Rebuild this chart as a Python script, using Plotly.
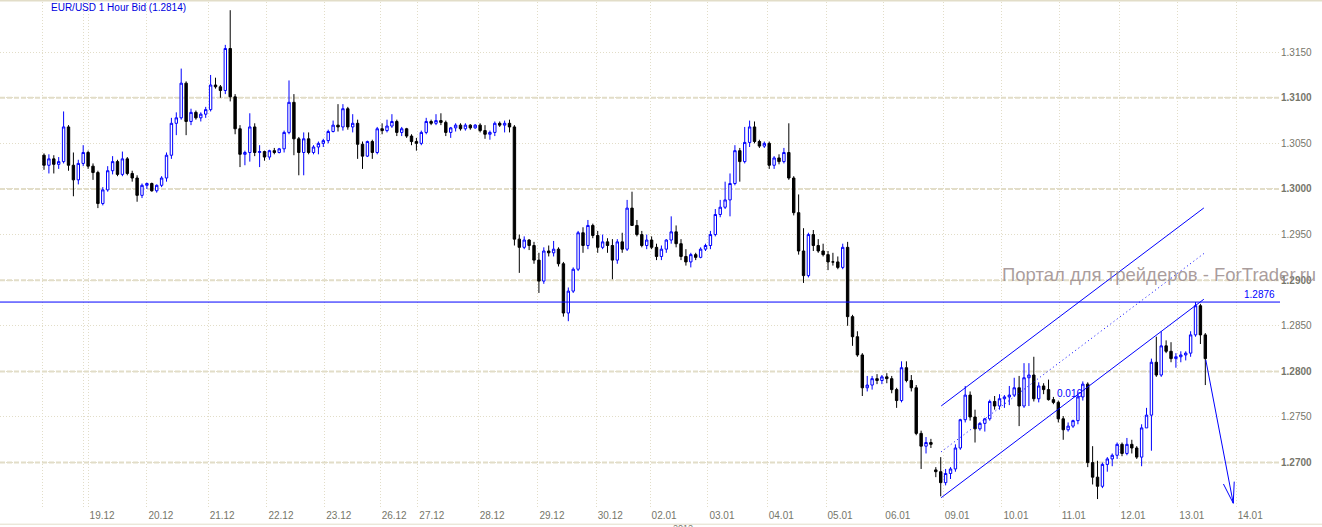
import plotly.graph_objects as go

# ---- data: EUR/USD 2-hour candles ----
opens = [1.3037,1.3026,1.3033,1.3027,1.3030,1.3068,1.3026,1.3010,1.3028,1.3040,
 1.3025,1.3018,1.2984,1.2999,1.3020,1.3030,1.3016,1.3033,1.3017,1.3012,
 1.2993,1.3004,1.3006,1.2998,1.3004,1.3012,1.3037,1.3072,1.3078,1.3116,
 1.3074,1.3084,1.3078,1.3082,1.3087,1.3114,1.3112,1.3108,1.3154,1.3101,
 1.3066,1.3038,1.3040,1.3068,1.3040,1.3041,1.3035,1.3042,1.3040,1.3044,
 1.3062,1.3095,1.3055,1.3040,1.3055,1.3040,1.3046,1.3050,1.3053,1.3063,
 1.3070,1.3068,1.3088,1.3068,1.3072,1.3049,1.3036,1.3052,1.3040,1.3066,
 1.3064,1.3069,1.3074,1.3062,1.3066,1.3058,1.3052,1.3050,1.3062,1.3074,
 1.3072,1.3075,1.3073,1.3062,1.3067,1.3070,1.3066,1.3070,1.3067,1.3070,
 1.3064,1.3060,1.3062,1.3072,1.3070,1.3072,1.3068,1.2945,1.2936,1.2944,
 1.2938,1.2922,1.2899,1.2932,1.2930,1.2934,1.2918,1.2864,1.2888,1.2912,
 1.2952,1.2938,1.2960,1.2949,1.2936,1.2942,1.2938,1.2922,1.2942,1.2934,
 1.2979,1.2960,1.2950,1.2938,1.2944,1.2936,1.2926,1.2934,1.2944,1.2953,
 1.2940,1.2926,1.2920,1.2928,1.2925,1.2934,1.2938,1.2950,1.2972,1.2980,
 1.2988,1.3006,1.3042,1.3030,1.3051,1.3068,1.3052,1.3047,1.3050,1.3026,
 1.3034,1.3030,1.3040,1.3012,1.2974,1.2932,1.2905,1.2950,1.2938,1.2932,
 1.2928,1.2920,1.2920,1.2914,1.2936,1.2860,1.2838,1.2818,1.2782,1.2785,
 1.2792,1.2790,1.2794,1.2792,1.2780,1.2768,1.2804,1.2790,1.2782,1.2732,
 1.2718,1.2722,1.2692,1.2690,1.2678,1.2688,1.2693,1.2716,1.2747,1.2774,
 1.2750,1.2737,1.2743,1.2748,1.2767,1.2762,1.2770,1.2772,1.2774,1.2782,
 1.2762,1.2793,1.2796,1.2770,1.2784,1.2780,1.2769,1.2766,1.2748,1.2736,
 1.2740,1.2746,1.2772,1.2786,1.2700,1.2684,1.2674,1.2698,1.2704,1.2708,
 1.2720,1.2710,1.2720,1.2716,1.2706,1.2738,1.2752,1.2810,1.2796,1.2828,
 1.2822,1.2814,1.2816,1.2818,1.2820,1.2840,1.2872,1.2840]

highs = [1.3039,1.3038,1.3037,1.3035,1.3085,1.3070,1.3040,1.3032,1.3048,1.3042,
 1.3028,1.3020,1.3002,1.3025,1.3036,1.3032,1.3041,1.3035,1.3020,1.3015,
 1.3006,1.3007,1.3007,1.3005,1.3014,1.3040,1.3078,1.3084,1.3132,1.3118,
 1.3088,1.3086,1.3084,1.3090,1.3125,1.3122,1.3114,1.3158,1.3196,1.3104,
 1.3070,1.3042,1.3083,1.3072,1.3048,1.3042,1.3043,1.3045,1.3045,1.3064,
 1.3119,1.3104,1.3057,1.3062,1.3062,1.3048,1.3052,1.3055,1.3065,1.3075,
 1.3093,1.3093,1.3090,1.3082,1.3076,1.3052,1.3053,1.3054,1.3068,1.3072,
 1.3076,1.3082,1.3076,1.3068,1.3067,1.3060,1.3056,1.3064,1.3078,1.3076,
 1.3082,1.3083,1.3075,1.3068,1.3072,1.3072,1.3072,1.3071,1.3071,1.3072,
 1.3070,1.3064,1.3074,1.3074,1.3075,1.3076,1.3070,1.2950,1.2948,1.2945,
 1.2942,1.2930,1.2936,1.2938,1.2943,1.2936,1.2920,1.2892,1.2914,1.2954,
 1.2958,1.2966,1.2962,1.2954,1.2950,1.2946,1.2945,1.2945,1.2952,1.2988,
 1.2997,1.2966,1.2954,1.2950,1.2948,1.2940,1.2938,1.2945,1.2970,1.2960,
 1.2945,1.2934,1.2930,1.2930,1.2936,1.2940,1.2954,1.2978,1.2988,1.3008,
 1.3017,1.3048,1.3045,1.3068,1.3075,1.3074,1.3054,1.3052,1.3052,1.3036,
 1.3038,1.3045,1.3072,1.3014,1.2994,1.2957,1.2952,1.2955,1.2945,1.2940,
 1.2932,1.2930,1.2926,1.2940,1.2942,1.2862,1.2844,1.2820,1.2795,1.2795,
 1.2797,1.2796,1.2798,1.2795,1.2782,1.2811,1.2811,1.2796,1.2785,1.2735,
 1.2728,1.2726,1.2695,1.2706,1.2693,1.2695,1.2720,1.2748,1.2784,1.2778,
 1.2758,1.2744,1.2749,1.2769,1.2773,1.2775,1.2774,1.2784,1.2793,1.2795,
 1.2809,1.2809,1.2816,1.2788,1.2787,1.2791,1.2772,1.2768,1.2751,1.2744,
 1.2747,1.2775,1.2789,1.2788,1.2718,1.2702,1.2700,1.2706,1.2710,1.2722,
 1.2722,1.2727,1.2725,1.2718,1.2742,1.2760,1.2814,1.2838,1.2844,1.2834,
 1.2832,1.2820,1.2822,1.2822,1.2844,1.2876,1.2874,1.2842]

lows = [1.3021,1.3017,1.3017,1.3022,1.3028,1.3020,1.2992,1.3005,1.3025,1.3022,
 1.3010,1.2979,1.2982,1.2997,1.3016,1.3014,1.3014,1.3015,1.3008,1.2986,
 1.2990,1.3000,1.2997,1.2996,1.3002,1.3008,1.3033,1.3059,1.3076,1.3059,
 1.3070,1.3076,1.3074,1.3078,1.3085,1.3110,1.3100,1.3104,1.3096,1.3060,
 1.3024,1.3026,1.3030,1.3036,1.3024,1.3031,1.3032,1.3038,1.3039,1.3040,
 1.3060,1.3037,1.3015,1.3015,1.3038,1.3038,1.3038,1.3046,1.3050,1.3062,
 1.3063,1.3064,1.3065,1.3062,1.3033,1.3022,1.3035,1.3033,1.3038,1.3060,
 1.3062,1.3067,1.3058,1.3058,1.3056,1.3048,1.3042,1.3048,1.3060,1.3070,
 1.3070,1.3070,1.3058,1.3056,1.3063,1.3064,1.3064,1.3065,1.3066,1.3062,
 1.3055,1.3054,1.3058,1.3068,1.3062,1.3062,1.2938,1.2908,1.2934,1.2933,
 1.2918,1.2886,1.2896,1.2926,1.2926,1.2915,1.2860,1.2855,1.2886,1.2910,
 1.2930,1.2934,1.2946,1.2930,1.2934,1.2930,1.2901,1.2918,1.2930,1.2932,
 1.2974,1.2948,1.2936,1.2934,1.2934,1.2922,1.2922,1.2930,1.2940,1.2936,
 1.2922,1.2916,1.2914,1.2922,1.2924,1.2932,1.2934,1.2948,1.2969,1.2978,
 1.2970,1.3004,1.3008,1.3028,1.3046,1.3050,1.3045,1.3045,1.3022,1.3022,
 1.3027,1.3028,1.3010,1.2971,1.2928,1.2897,1.2903,1.2932,1.2930,1.2926,
 1.2911,1.2916,1.2912,1.2912,1.2850,1.2828,1.2816,1.2773,1.2778,1.2780,
 1.2786,1.2786,1.2787,1.2776,1.2760,1.2766,1.2788,1.2778,1.2730,1.2693,
 1.2710,1.2716,1.2684,1.2663,1.2675,1.2682,1.2690,1.2714,1.2744,1.2746,
 1.2722,1.2735,1.2734,1.2746,1.2758,1.2758,1.2760,1.2763,1.2772,1.2740,
 1.2760,1.2762,1.2767,1.2766,1.2775,1.2768,1.2764,1.2744,1.2725,1.2734,
 1.2738,1.2742,1.2768,1.2695,1.2676,1.2660,1.2672,1.2690,1.2696,1.2704,
 1.2707,1.2708,1.2710,1.2704,1.2696,1.2738,1.2713,1.2794,1.2794,1.2820,
 1.2810,1.2804,1.2810,1.2812,1.2816,1.2838,1.2830,1.2785]

closes = [1.3026,1.3033,1.3027,1.3030,1.3068,1.3026,1.3010,1.3028,1.3040,1.3025,
 1.3018,1.2984,1.2999,1.3020,1.3030,1.3016,1.3033,1.3017,1.3012,1.2993,
 1.3004,1.3006,1.2998,1.3004,1.3012,1.3037,1.3072,1.3078,1.3116,1.3074,
 1.3084,1.3078,1.3082,1.3087,1.3114,1.3112,1.3108,1.3154,1.3101,1.3066,
 1.3038,1.3040,1.3068,1.3040,1.3041,1.3035,1.3042,1.3040,1.3044,1.3062,
 1.3095,1.3055,1.3040,1.3055,1.3040,1.3046,1.3050,1.3053,1.3063,1.3070,
 1.3068,1.3088,1.3068,1.3072,1.3049,1.3036,1.3052,1.3040,1.3066,1.3064,
 1.3069,1.3074,1.3062,1.3066,1.3058,1.3052,1.3050,1.3062,1.3074,1.3072,
 1.3075,1.3073,1.3062,1.3067,1.3070,1.3066,1.3070,1.3067,1.3070,1.3064,
 1.3060,1.3062,1.3072,1.3070,1.3072,1.3068,1.2945,1.2936,1.2944,1.2938,
 1.2922,1.2899,1.2932,1.2930,1.2934,1.2918,1.2864,1.2888,1.2912,1.2952,
 1.2938,1.2960,1.2949,1.2936,1.2942,1.2938,1.2922,1.2942,1.2934,1.2979,
 1.2960,1.2950,1.2938,1.2944,1.2936,1.2926,1.2934,1.2944,1.2953,1.2940,
 1.2926,1.2920,1.2928,1.2925,1.2934,1.2938,1.2950,1.2972,1.2980,1.2988,
 1.3006,1.3042,1.3030,1.3051,1.3068,1.3052,1.3047,1.3050,1.3026,1.3034,
 1.3030,1.3040,1.3012,1.2974,1.2932,1.2905,1.2950,1.2938,1.2932,1.2928,
 1.2920,1.2920,1.2914,1.2936,1.2860,1.2838,1.2818,1.2782,1.2785,1.2792,
 1.2790,1.2794,1.2792,1.2780,1.2768,1.2804,1.2790,1.2782,1.2732,1.2718,
 1.2722,1.2720,1.2690,1.2678,1.2688,1.2693,1.2716,1.2747,1.2774,1.2750,
 1.2737,1.2743,1.2748,1.2767,1.2762,1.2770,1.2772,1.2774,1.2782,1.2762,
 1.2793,1.2796,1.2770,1.2784,1.2780,1.2769,1.2766,1.2748,1.2736,1.2740,
 1.2746,1.2772,1.2786,1.2700,1.2684,1.2674,1.2698,1.2704,1.2708,1.2720,
 1.2710,1.2720,1.2716,1.2706,1.2738,1.2752,1.2810,1.2796,1.2828,1.2822,
 1.2814,1.2816,1.2818,1.2820,1.2840,1.2872,1.2840,1.2814]

# day boundaries in candle-index units and their labels
day_labels = ["19.12", "20.12", "21.12", "22.12", "23.12", "26.12", "27.12", "28.12",
              "29.12", "30.12", "02.01", "03.01", "04.01", "05.01", "06.01", "09.01",
              "10.01", "11.01", "12.01", "13.01", "14.01"]
day_starts = [9.0, 21.0, 33.5, 45.5, 57.3, 68.6, 76.3, 88.6, 100.8, 112.7, 123.7,
              135.5, 147.6, 159.6, 171.4, 183.5, 195.5, 207.3, 219.4, 231.4, 243.3]
extra_grid = [-0.3, 8.0, 252.2]

price_ticks = [1.2700, 1.2750, 1.2800, 1.2850, 1.2900, 1.2950, 1.3000, 1.3050, 1.3100, 1.3150]
major_levels = [1.2700, 1.2800, 1.2900, 1.3000, 1.3100]

x_range = [-8.98, 252.24]
y_range = [1.26502, 1.32050]

level_price = 1.2876
channel_x = [183.1, 236.7]
channel_upper = [1.27621, 1.29792]
channel_mid = [1.27118, 1.29292]
channel_lower = [1.26615, 1.28791]
arrow_x = [237.1, 242.7]
arrow_y = [1.28125, 1.26554]
barb_x = [240.7, 242.7, 242.9]
barb_y = [1.26765, 1.26554, 1.26791]
channel_label = ("0.016", 209.2, 1.27758)

BLUE = "#0000FF"
GRID = "#E2DDC8"
TXT = "#76766A"
FONT = "Liberation Sans, Arial, sans-serif"

x_idx = list(range(len(closes)))

fig = go.Figure()
fig.add_trace(go.Candlestick(
    x=x_idx, open=opens, high=highs, low=lows, close=closes,
    increasing=dict(line=dict(color=BLUE, width=1), fillcolor="#FFFFFF"),
    decreasing=dict(line=dict(color="#000000", width=1), fillcolor="#000000"),
    whiskerwidth=0, hoverinfo="skip", showlegend=False))

# horizontal level line
fig.add_trace(go.Scatter(x=x_range, y=[level_price, level_price], mode="lines",
                         line=dict(color=BLUE, width=1), hoverinfo="skip", showlegend=False))
# channel
fig.add_trace(go.Scatter(x=channel_x, y=channel_upper, mode="lines",
                         line=dict(color=BLUE, width=1), hoverinfo="skip", showlegend=False))
fig.add_trace(go.Scatter(x=channel_x, y=channel_lower, mode="lines",
                         line=dict(color=BLUE, width=1), hoverinfo="skip", showlegend=False))
fig.add_trace(go.Scatter(x=channel_x, y=channel_mid, mode="lines",
                         line=dict(color=BLUE, width=1, dash="1px,3px"), hoverinfo="skip", showlegend=False))
# arrow
fig.add_trace(go.Scatter(x=arrow_x, y=arrow_y, mode="lines",
                         line=dict(color=BLUE, width=1), hoverinfo="skip", showlegend=False))
fig.add_trace(go.Scatter(x=barb_x, y=barb_y, mode="lines",
                         line=dict(color=BLUE, width=1), hoverinfo="skip", showlegend=False))

shapes = []
for lv in major_levels:
    shapes.append(dict(type="line", xref="paper", x0=0, x1=1, yref="y", y0=lv, y1=lv,
                       line=dict(color=GRID, width=2, dash="5px,2px"), layer="below"))
# top and bottom frame lines
shapes.append(dict(type="line", xref="paper", x0=0, x1=1322 / 1280, yref="paper",
                   y0=1.003, y1=1.003, line=dict(color=GRID, width=2)))
shapes.append(dict(type="line", xref="paper", x0=0, x1=1322 / 1280, yref="paper",
                   y0=-0.032, y1=-0.032, line=dict(color=GRID, width=1)))

annotations = [
    dict(text="EUR/USD 1 Hour Bid (1.2814)", xref="paper", yref="paper", x=49 / 1280, y=0.989,
         xanchor="left", yanchor="middle", showarrow=False,
         font=dict(family=FONT, size=10, color="#0000E0")),
    dict(text="Портал для трейдеров - ForTrader.ru", xref="paper", yref="paper",
         x=1318 / 1280, y=0.4605, xanchor="right", yanchor="middle", showarrow=False,
         font=dict(family=FONT, size=18.5, color="rgba(155,140,140,0.85)")),
    dict(text=f"{level_price:.4f}", xref="paper", yref="y", x=1277 / 1280, y=level_price,
         xanchor="right", yanchor="bottom", showarrow=False,
         font=dict(family=FONT, size=10, color=BLUE)),
    dict(text=channel_label[0], xref="x", yref="y", x=channel_label[1], y=channel_label[2],
         xanchor="center", yanchor="middle", showarrow=False,
         font=dict(family=FONT, size=10, color=BLUE)),
    dict(text="2012", xref="paper", yref="paper", x=683 / 1280, y=-0.026,
         xanchor="center", yanchor="top", showarrow=False,
         font=dict(family=FONT, size=9, color=TXT)),
]

ticktext_y = [f"<b>{p:.4f}</b>" if p in major_levels else f"{p:.4f}" for p in price_ticks]

fig.update_layout(
    width=1322, height=527,
    margin=dict(l=0, r=42, t=2, b=19),
    paper_bgcolor="#FFFFFF", plot_bgcolor="#FFFFFF",
    showlegend=False,
    font=dict(family=FONT, size=10, color=TXT),
    shapes=shapes, annotations=annotations,
    xaxis=dict(range=x_range, rangeslider=dict(visible=False), showline=False, zeroline=False,
               tickmode="array", tickvals=day_starts + extra_grid,
               ticktext=day_labels + ["", "", ""],
               showgrid=True, gridcolor=GRID, gridwidth=1, griddash="1px,2px",
               ticks="", ticklabelshift=14, tickfont=dict(family=FONT, size=10, color=TXT)),
    yaxis=dict(range=y_range, side="right", showline=False, zeroline=False,
               tickmode="array", tickvals=price_ticks, ticktext=ticktext_y,
               showgrid=True, gridcolor=GRID, gridwidth=1, griddash="1px,2px",
               ticks="", tickfont=dict(family=FONT, size=10, color=TXT)),
)

fig.write_html("out.html", config={"displayModeBar": False},
               post_script="document.body.style.margin='0px';document.body.style.overflow='hidden';")
